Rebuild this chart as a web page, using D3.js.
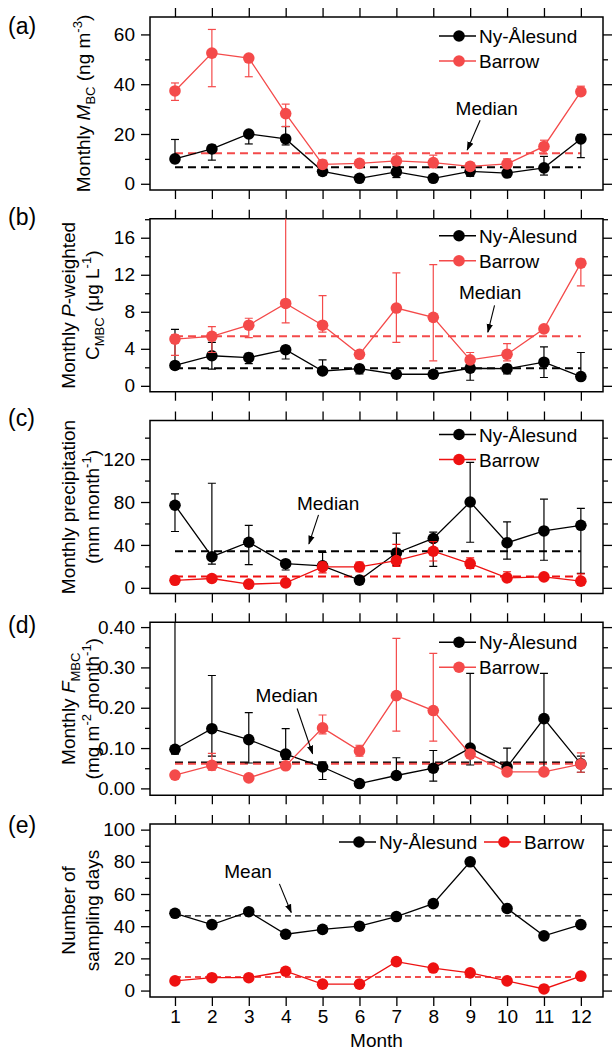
<!DOCTYPE html>
<html><head><meta charset="utf-8">
<script src="https://cdn.jsdelivr.net/npm/d3@7"></script>
<style>
body{margin:0;background:#fff;}
svg text{font-family:"Liberation Sans",Arial,sans-serif;fill:#000;}
</style></head>
<body><div id="chart"></div>
<script>
(function() {
"use strict"

var months = [1,2,3,4,5,6,7,8,9,10,11,12];
var seriesNames = ["Ny-Ålesund", "Barrow"];

// (a) monthly BC mass concentration (ng m-3)
var mbcNy   = [10, 14, 20, 18, 5, 2.2, 4.8, 2.2, 5, 4.3, 6.4, 18];
var mbcNyLo = [8.5, 9.5, 16, 15.6, 3.5, 1.5, 2.5, 1.5, 3, 3, 3.5, 10.5];
var mbcNyHi = [17.8, 15.5, 21, 23, 7.5, 2.8, 7, 2.8, 7.5, 6.5, 11, 19.8];
var mbcBw   = [37.3, 52.5, 50.5, 28.2, 7.8, 8.2, 9.2, 8.5, 7, 8, 15, 37];
var mbcBwLo = [33.5, 39, 43, 23, 6.5, 7.5, 7.5, 6.5, 6, 6.5, 12, 35.5];
var mbcBwHi = [40.5, 62, 51.5, 32, 9.5, 9, 12, 11.5, 8.5, 10, 17.5, 39.2];
var mbcMedian = [6.6, 12.3];
var mbcTicks = [0, 20, 40, 60];

// (b) monthly precipitation-weighted C_MBC (ug L-1)
var cmbcNy   = [2.2, 3.25, 3.05, 3.9, 1.6, 1.85, 1.25, 1.25, 1.9, 1.85, 2.55, 1.0];
var cmbcNyLo = [1.8, 1.8, 2.4, 2.9, 1.5, 1.3, 1.0, 0.9, 0.6, 1.3, 0.9, 0.9];
var cmbcNyHi = [6.1, 4.7, 3.5, 4.3, 2.8, 2.1, 1.5, 1.6, 2.0, 2.2, 4.2, 3.6];
var cmbcBw   = [5.05, 5.35, 6.55, 8.9, 6.55, 3.4, 8.4, 7.4, 2.8, 3.4, 6.15, 13.25];
var cmbcBwLo = [3.3, 3.6, 5.2, 6.8, 5.8, 3.3, 4.7, 2.7, 2.5, 2.7, 5.9, 10.8];
var cmbcBwHi = [5.5, 6.4, 7.3, 18.3, 9.75, 3.5, 12.2, 13.1, 3.6, 4.55, 6.4, 13.7];
var cmbcMedian = [1.9, 5.35];
var cmbcTicks = [0, 4, 8, 12, 16];

// (c) monthly precipitation (mm month-1)
var precNy   = [77, 29, 42.5, 22.5, 20.5, 7.2, 32.5, 46, 80, 42, 53, 58.3];
var precNyLo = [52.5, 22, 21.7, 16.6, 17, 6, 21, 20, 42.5, 26.7, 25.7, 13.5];
var precNyHi = [87.5, 97.5, 58.3, 24.5, 33, 8, 51, 52, 117, 61.4, 82.6, 74];
var precBw   = [7, 8.7, 3.4, 4.6, 19.5, 19.5, 25.4, 34.1, 22.6, 9.3, 10.2, 6.2];
var precBwLo = [5, 6, 2, 2, 14, 15, 20, 25, 18, 7, 9, 4];
var precBwHi = [9, 11, 5, 7, 24, 24, 40.5, 43, 28, 15, 11.5, 13];
var precMedian = [34, 10.5];
var precTicks = [0, 40, 80, 120];

// (d) monthly F_MBC (mg m-2 month-1)
var fmbcNy   = [0.097, 0.148, 0.121, 0.085, 0.053, 0.012, 0.032, 0.05, 0.1, 0.053, 0.173, 0.061];
var fmbcNyLo = [0.085, 0.08, 0.063, 0.072, 0.022, 0.01, 0.028, 0.018, 0.058, 0.048, 0.04, 0.04];
var fmbcNyHi = [0.45, 0.28, 0.188, 0.148, 0.065, 0.014, 0.076, 0.094, 0.285, 0.1, 0.285, 0.08];
var fmbcBw   = [0.033, 0.057, 0.026, 0.056, 0.15, 0.093, 0.23, 0.193, 0.085, 0.041, 0.041, 0.06];
var fmbcBwLo = [0.03, 0.045, 0.024, 0.052, 0.135, 0.08, 0.142, 0.117, 0.08, 0.039, 0.039, 0.04];
var fmbcBwHi = [0.036, 0.087, 0.028, 0.06, 0.182, 0.107, 0.372, 0.335, 0.095, 0.044, 0.044, 0.088];
var fmbcMedian = [0.064, 0.061];
var fmbcTicks = [0, 0.1, 0.2, 0.3, 0.4];

// (e) number of sampling days
var daysNy = [48, 41, 49, 35, 38, 40, 46, 54, 80, 51, 34, 41];
var daysBw = [6, 8, 8, 12, 4, 4, 18, 14, 11, 6, 1, 9];
var daysMean = [46.4, 8.4];
var daysTicks = [0, 20, 40, 60, 80, 100];

var W = 612, H = 1051;
var left = 150, right = 603, ph = 173, pitch = 201.75, top0 = 17;
var redSoft = "#f44a4a", redHard = "#ee1111";

var svg = d3.select("#chart").append("svg")
    .attr("width", W).attr("height", H)
    .style("display", "block");

var x = d3.scaleLinear().domain([0.323, 12.6]).range([left, right]);

function titleSegs(str) {
    // tiny markup: _x_ subscript, ^x^ superscript, *x* italic
    var out = [], re = /(_[^_]+_|\^[^^]+\^|\*[^*]+\*)/g, parts = str.split(re);
    parts.forEach(function(p) {
        if (!p) return;
        if (p[0] === "_") out.push({t: p.slice(1, -1), sub: true});
        else if (p[0] === "^") out.push({t: p.slice(1, -1), sup: true});
        else if (p[0] === "*") out.push({t: p.slice(1, -1), it: true});
        else out.push({t: p});
    });
    return out;
}

function addSegs(text, segs) {
    var shift = 0;
    segs.forEach(function(s) {
        var want = s.sub ? 5 : (s.sup ? -8 : 0);
        var ts = text.append("tspan").text(s.t).attr("dy", want - shift);
        shift = want;
        if (s.sub || s.sup) ts.style("font-size", "13px");
        if (s.it) ts.style("font-style", "italic");
    });
}

var panels = [
    {label: "(a)", labelY: 34, ny: mbcNy, nyLo: mbcNyLo, nyHi: mbcNyHi, bw: mbcBw, bwLo: mbcBwLo, bwHi: mbcBwHi,
     ref: mbcMedian, domain: [-2.5, 67], ticks: mbcTicks, minor: [10, 30, 50], fmt: d3.format("d"), red: redSoft,
     title: ["Monthly *M*_BC_ (ng m^-3^)"], legY: 19, legRows: true,
     note: {text: "Median", tx: 9.45, ty: 30.5, ax: 9.27, ay: 25.5, bx: 8.92, by: 13.6}},
    {label: "(b)", labelY: 225, ny: cmbcNy, nyLo: cmbcNyLo, nyHi: cmbcNyHi, bw: cmbcBw, bwLo: cmbcBwLo, bwHi: cmbcBwHi,
     ref: cmbcMedian, domain: [-0.64, 18.05], ticks: cmbcTicks, minor: [2, 6, 10, 14, 18], fmt: d3.format("d"), red: redSoft,
     title: ["Monthly *P*-weighted", "C_MBC_ (μg L^-1^)"], legY: 17, legRows: true,
     note: {text: "Median", tx: 9.54, ty: 10.1, ax: 9.66, ay: 8.7, bx: 9.48, by: 5.8}},
    {label: "(c)", labelY: 426, ny: precNy, nyLo: precNyLo, nyHi: precNyHi, bw: precBw, bwLo: precBwLo, bwHi: precBwHi,
     ref: precMedian, domain: [-5.3, 156], ticks: precTicks, minor: [20, 60, 100, 140], fmt: d3.format("d"), red: redHard,
     title: ["Monthly precipitation", "(mm month^-1^)"], legY: 14, legRows: true,
     note: {text: "Median", tx: 5.15, ty: 79, ax: 4.89, ay: 68, bx: 4.63, by: 41}},
    {label: "(d)", labelY: 633, ny: fmbcNy, nyLo: fmbcNyLo, nyHi: fmbcNyHi, bw: fmbcBw, bwLo: fmbcBwLo, bwHi: fmbcBwHi,
     ref: fmbcMedian, domain: [-0.017, 0.412], ticks: fmbcTicks, minor: [0.05, 0.15, 0.25, 0.35], fmt: d3.format(".2f"), red: redSoft,
     title: ["Monthly *F*_MBC_", "(mg m^-2^ month^-1^)"], legY: 20, legRows: true,
     note: {text: "Median", tx: 4.03, ty: 0.232, ax: 4.31, ay: 0.198, bx: 4.73, by: 0.086}},
    {label: "(e)", labelY: 833, ny: daysNy, bw: daysBw,
     ref: daysMean, domain: [-4, 103.5], ticks: daysTicks, minor: [10, 30, 50, 70, 90], fmt: d3.format("d"), red: redHard,
     title: ["Number of", "sampling days"], legY: 18, legRows: false,
     note: {text: "Mean", tx: 2.98, ty: 74.2, ax: 3.83, ay: 66.3, bx: 4.15, by: 48.5}}
];

svg.append("defs").append("marker")
    .attr("id", "ahead").attr("viewBox", "0 0 10 10")
    .attr("refX", 9).attr("refY", 5)
    .attr("markerWidth", 9).attr("markerHeight", 9)
    .attr("markerUnits", "userSpaceOnUse")
    .attr("orient", "auto")
  .append("path").attr("d", "M0,1.5L10,5L0,8.5Z").attr("fill", "#000");

panels.forEach(function(p, i) {
    var top = top0 + i * pitch, bottom = top + ph;
    var y = d3.scaleLinear().domain(p.domain).range([bottom, top]);
    var g = svg.append("g");
    var last = i === panels.length - 1;

    g.append("clipPath").attr("id", "clip" + i)
      .append("rect").attr("x", left).attr("y", top).attr("width", right - left).attr("height", ph);

    // axes (ticks outward on all four sides)
    var ax;
    ax = g.append("g").attr("transform", "translate(" + left + ",0)")
        .call(d3.axisLeft(y).tickValues(p.ticks).tickSize(9).tickPadding(6).tickFormat(p.fmt));
    ax.append("g").call(d3.axisLeft(y).tickValues(p.minor).tickSize(5).tickFormat(""));
    g.append("g").attr("transform", "translate(" + right + ",0)")
        .call(d3.axisRight(y).tickValues(p.ticks).tickSize(9).tickFormat(""))
      .append("g").call(d3.axisRight(y).tickValues(p.minor).tickSize(5).tickFormat(""));
    g.append("g").attr("transform", "translate(0," + top + ")")
        .call(d3.axisTop(x).tickValues(months).tickSize(9).tickFormat(""));
    g.append("g").attr("transform", "translate(0," + bottom + ")")
        .call(d3.axisBottom(x).tickValues(months).tickSize(9).tickPadding(4)
            .tickFormat(last ? d3.format("d") : ""));
    g.selectAll(".domain").remove();
    g.selectAll(".tick line").attr("stroke", "#000").attr("stroke-width", 1.3);
    g.selectAll(".tick text").style("font-size", "19px").attr("fill", "#000");

    g.append("rect").attr("x", left).attr("y", top).attr("width", right - left).attr("height", ph)
        .attr("fill", "none").attr("stroke", "#000").attr("stroke-width", 1.5);

    // panel label
    svg.append("text").attr("x", 8).attr("y", p.labelY).style("font-size", "23px").text(p.label);

    // y title
    var nl = p.title.length;
    var tx = nl === 1 ? [90] : [75, 99];
    p.title.forEach(function(line, k) {
        var t = svg.append("text")
            .attr("transform", "translate(" + tx[k] + "," + ((top + bottom) / 2) + ") rotate(-90)")
            .attr("text-anchor", "middle").style("font-size", "19px");
        addSegs(t, titleSegs(line));
    });

    var plot = g.append("g").attr("clip-path", "url(#clip" + i + ")");
    var colors = ["#000", p.red];

    // reference lines (median / mean)
    var dashW = last ? 1.4 : 2;
    p.ref.forEach(function(v, k) {
        plot.append("line")
            .attr("x1", x(1)).attr("x2", x(12)).attr("y1", y(v)).attr("y2", y(v))
            .attr("stroke", colors[k]).attr("stroke-width", dashW)
            .attr("stroke-dasharray", last ? "6,4" : "8,5");
    });

    var series = [
        {v: p.ny, lo: p.nyLo, hi: p.nyHi, c: "#000"},
        {v: p.bw, lo: p.bwLo, hi: p.bwHi, c: p.red}
    ];
    var line = d3.line().x(function(d, j) { return x(months[j]); }).y(function(d) { return y(d); });

    series.forEach(function(s) {
        if (s.lo) {
            var eb = plot.append("g").attr("stroke", s.c).attr("stroke-width", 1.2);
            months.forEach(function(m, j) {
                var cx = x(m);
                eb.append("line").attr("x1", cx).attr("x2", cx).attr("y1", y(s.lo[j])).attr("y2", y(s.hi[j]));
                [s.lo[j], s.hi[j]].forEach(function(v) {
                    eb.append("line").attr("x1", cx - 4).attr("x2", cx + 4).attr("y1", y(v)).attr("y2", y(v));
                });
            });
        }
        plot.append("path").datum(s.v).attr("d", line)
            .attr("fill", "none").attr("stroke", s.c).attr("stroke-width", 1.3);
        plot.append("g").selectAll("circle").data(s.v).enter().append("circle")
            .attr("cx", function(d, j) { return x(months[j]); })
            .attr("cy", function(d) { return y(d); })
            .attr("r", 5.8).attr("fill", s.c);
    });

    // annotation
    var n = p.note;
    svg.append("text").attr("x", x(n.tx)).attr("y", y(n.ty) + 7).attr("text-anchor", "middle")
        .style("font-size", "19px").text(n.text);
    svg.append("line").attr("x1", x(n.ax)).attr("y1", y(n.ay)).attr("x2", x(n.bx)).attr("y2", y(n.by))
        .attr("stroke", "#000").attr("stroke-width", 1.1).attr("marker-end", "url(#ahead)");

    // legend
    var lg = svg.append("g");
    seriesNames.forEach(function(name, k) {
        var lx = p.legRows ? 459 : [359, 504][k];
        var ly = p.legRows ? top + p.legY + k * 25 : top + p.legY;
        lg.append("line").attr("x1", lx - 20).attr("x2", lx + 17).attr("y1", ly).attr("y2", ly)
            .attr("stroke", colors[k]).attr("stroke-width", 1.3);
        lg.append("circle").attr("cx", lx).attr("cy", ly).attr("r", 5.8).attr("fill", colors[k]);
        lg.append("text").attr("x", lx + 20).attr("y", ly + 7).style("font-size", "19px").text(name);
    });
});

svg.append("text").attr("x", (left + right) / 2).attr("y", 1047).attr("text-anchor", "middle")
    .style("font-size", "19px").text("Month");
})();
</script>
</body></html>
